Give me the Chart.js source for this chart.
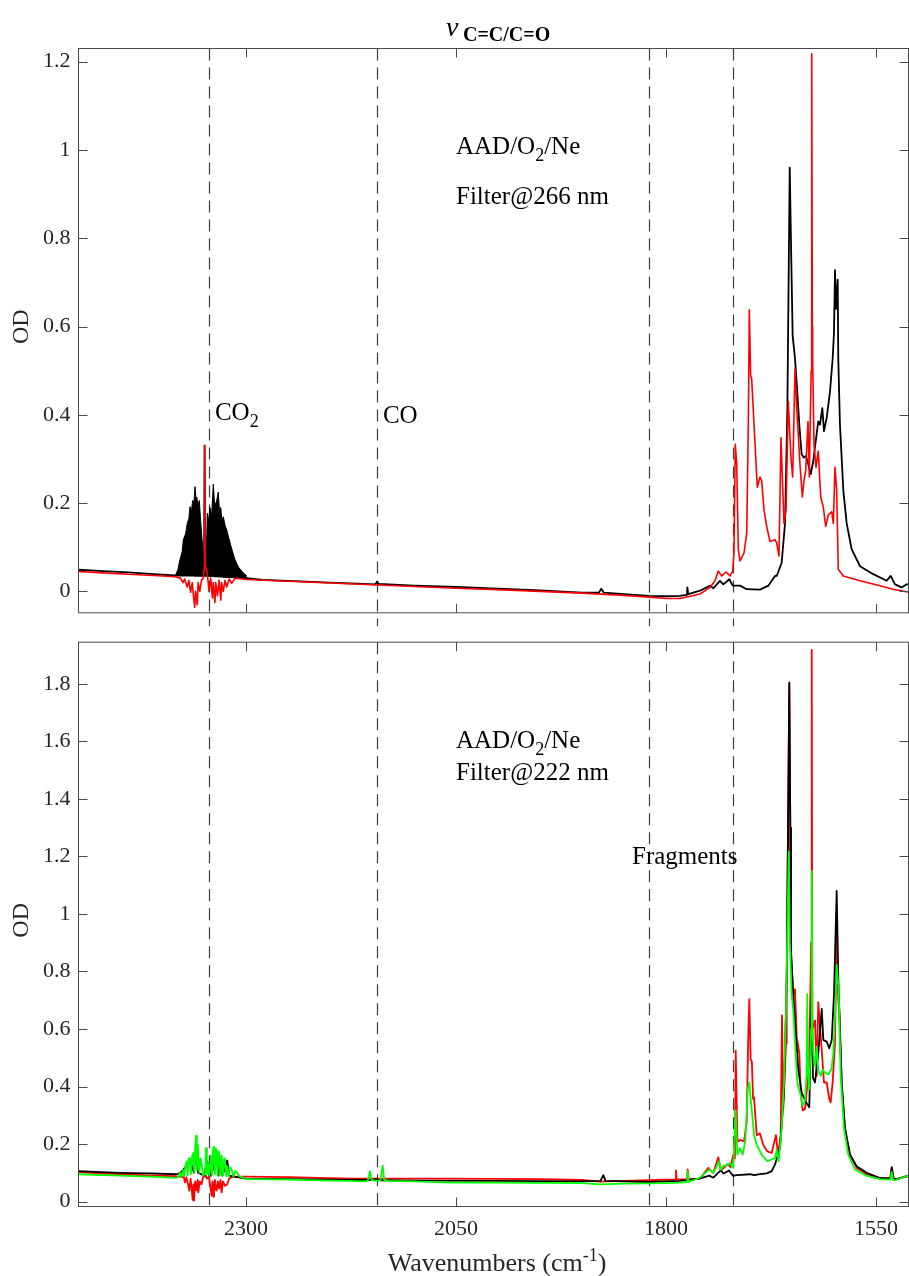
<!DOCTYPE html>
<html>
<head>
<meta charset="utf-8">
<script src="https://cdn.jsdelivr.net/npm/chart.js@4.4.0/dist/chart.umd.min.js"></script>
<style>
  html, body { margin: 0; padding: 0; background: #fff; }
  #wrap { position: relative; width: 909px; height: 1276px; overflow: hidden; }
  #top { position: absolute; left: 0; top: 0; }
  #bot { position: absolute; left: 0; top: 621px; }
</style>
</head>
<body>
<div id="wrap">
  <canvas id="top" width="909" height="634"></canvas>
  <canvas id="bot" width="909" height="655"></canvas>
</div>
<script>
// ---- data (wavenumber in cm-1, optical density) ----
const xTicks = [1550, 1800, 2050, 2300];
const yTicksTop = [0, 0.2, 0.4, 0.6, 0.8, 1, 1.2];
const yTicksBot = [0, 0.2, 0.4, 0.6, 0.8, 1, 1.2, 1.4, 1.6, 1.8];
const markerWn = [2344, 2144, 1820, 1720];

// top panel, Filter@266 nm
const topBlackWn = [2500, 2470, 2440, 2410, 2385, 2350, 2349.3, 2348.5, 2345, 2299, 2280, 2250, 2200, 2160, 2146, 2144, 2142, 2100, 2050, 2000,
  1950, 1900, 1880, 1877, 1874, 1850, 1820, 1800, 1783.3, 1775, 1774.6, 1773.5, 1759.5, 1747.6, 1743.7, 1735.7, 1731.8, 1724.6, 1720.6, 1711.9,
  1703.9, 1688, 1678.2, 1670.2, 1668.2, 1662.3, 1658.3, 1655.5, 1652.7, 1650.4, 1649.2, 1646.4, 1643.7, 1641.3, 1638.5, 1635.7, 1633.3, 1630.6, 1627.7, 1624.6,
  1621.8, 1618.7, 1616.7, 1613.9, 1611.9, 1608.7, 1604.8, 1601.6, 1600, 1598.8, 1597.5, 1595.6, 1594.9, 1592.9, 1588.9, 1584.9, 1578.9, 1569, 1553.2, 1537.3,
  1532.5, 1527.4, 1519.4, 1513.5, 1510.7];
const topBlackOD = [0.049, 0.046, 0.043, 0.039, 0.036, 0.036, 0.33, 0.05, 0.036, 0.03, 0.026, 0.024, 0.02, 0.017, 0.016, 0.022, 0.017, 0.013, 0.01, 0.006,
  0.002, -0.003, -0.003, 0.006, -0.003, -0.006, -0.01, -0.011, -0.01, -0.008, 0.009, -0.006, 0.0015, 0.013, 0.007, 0.024, 0.016, 0.0275, 0.013, 0.013,
  0.005, 0.004, 0.013, 0.035, 0.035, 0.065, 0.154, 0.415, 0.96, 0.705, 0.579, 0.527, 0.452, 0.378, 0.31, 0.303, 0.307, 0.288, 0.266, 0.296,
  0.34, 0.385, 0.378, 0.415, 0.363, 0.393, 0.452, 0.527, 0.586, 0.728, 0.64, 0.706, 0.527, 0.378, 0.229, 0.154, 0.095, 0.057, 0.039, 0.024,
  0.035, 0.016, 0.009, 0.016, 0.016];

// CO2 band of the black trace (dense rotational lines), upper envelope and lower edge
const co2BandWn = [2384, 2381, 2378.6, 2376, 2374.6, 2372, 2369.9, 2368, 2366.7, 2365,
  2363.5, 2362, 2360.7, 2359.5, 2358.7, 2357, 2355.6, 2354, 2352.9, 2351.5,
  2350.5, 2349.5, 2347.5, 2346.1, 2344.5, 2342.9, 2341, 2338.9, 2337.5, 2335.7,
  2334.5, 2333, 2331.5, 2330.1, 2328.5, 2327, 2325, 2323, 2321, 2319,
  2316, 2313.1, 2309, 2305.1, 2301, 2299];
const co2BandTop = [0.036, 0.05, 0.072, 0.09, 0.117, 0.13, 0.154, 0.165, 0.192, 0.18,
  0.206, 0.2, 0.2375, 0.21, 0.214, 0.195, 0.206, 0.16, 0.132, 0.1,
  0.072, 0.05, 0.06, 0.177, 0.16, 0.19, 0.17, 0.243, 0.2, 0.199,
  0.21, 0.225, 0.18, 0.19, 0.16, 0.169, 0.15, 0.139, 0.125, 0.11,
  0.09, 0.072, 0.055, 0.046, 0.038, 0.035];
const co2BandBase = [0.036, 0.036, 0.036, 0.036, 0.036, 0.036, 0.035, 0.035, 0.035, 0.035,
  0.035, 0.035, 0.034, 0.034, 0.034, 0.034, 0.034, 0.034, 0.034, 0.034,
  0.033, 0.033, 0.033, 0.033, 0.033, 0.033, 0.033, 0.033, 0.032, 0.032,
  0.032, 0.032, 0.032, 0.032, 0.032, 0.031, 0.031, 0.031, 0.031, 0.031,
  0.031, 0.031, 0.03, 0.03, 0.03, 0.03];

const topRedWn = [2500, 2470, 2440, 2410, 2385, 2378, 2375, 2373, 2370, 2368, 2366, 2364, 2362, 2361, 2360, 2358, 2357, 2355, 2353, 2351,
  2349.8, 2349.2, 2348.5, 2346, 2344, 2342, 2340, 2339, 2337, 2336, 2334, 2332, 2330, 2329, 2327, 2325, 2323, 2320, 2317, 2313,
  2300, 2250, 2200, 2150, 2100, 2050, 2000, 1950, 1900, 1850, 1820, 1800, 1783.3, 1759.5, 1747.6, 1741.7, 1737.7, 1733.7, 1728.6, 1723.8,
  1720.6, 1719.1, 1717.5, 1715.8, 1713.9, 1711.9, 1707.1, 1703.9, 1702, 1700.8, 1699.2, 1698, 1695.2, 1691.3, 1688.1, 1686.1, 1683.3, 1680.1, 1676.2, 1670.2,
  1668.2, 1665.5, 1663.1, 1661.5, 1659.5, 1657.1, 1654.4, 1651.2, 1649.2, 1646.4, 1644.4, 1642.5, 1640.5, 1637.7, 1635.7, 1633.7, 1630.9, 1629.4, 1627.2, 1626.5,
  1625.8, 1625.4, 1623.8, 1621.4, 1618.7, 1615.8, 1612.7, 1609.9, 1606.8, 1602.7, 1600.8, 1598.8, 1596.8, 1594.9, 1588.9, 1569, 1545.2, 1529.4, 1510.7];
const topRedOD = [0.045, 0.042, 0.039, 0.036, 0.033, 0.03, 0.02, 0.028, 0.01, 0.025, -0.002, 0.02, -0.02, -0.036, 0.0, -0.03, 0.02, 0.0, 0.025, 0.03,
  0.05, 0.331, 0.06, 0.04, 0.0, 0.03, -0.015, 0.02, -0.025, 0.02, -0.01, 0.025, -0.02, 0.02, 0.0, 0.025, 0.01, 0.028, 0.018, 0.03,
  0.027, 0.023, 0.019, 0.015, 0.011, 0.007, 0.004, 0.0, -0.004, -0.009, -0.013, -0.016, -0.016, -0.006, 0.009, 0.024, 0.046, 0.035, 0.044, 0.035,
  0.046, 0.087, 0.333, 0.288, 0.095, 0.069, 0.087, 0.132, 0.378, 0.638, 0.489, 0.482, 0.378, 0.236, 0.259, 0.251, 0.184, 0.147, 0.113, 0.117,
  0.11, 0.08, 0.348, 0.259, 0.154, 0.184, 0.43, 0.303, 0.259, 0.504, 0.415, 0.355, 0.288, 0.214, 0.251, 0.273, 0.385, 0.259, 0.5, 1.218,
  0.6, 0.527, 0.333, 0.281, 0.318, 0.214, 0.191, 0.147, 0.173, 0.18, 0.154, 0.281, 0.229, 0.05, 0.035, 0.024, 0.013, 0.005, -0.002];

// bottom panel, Filter@222 nm
const botBlackWn = [2500, 2450, 2414, 2383, 2378, 2372, 2366, 2362, 2360, 2357, 2350, 2346, 2344, 2342.9, 2341.5, 2334.9, 2333, 2330, 2328, 2323,
  2322.3, 2320, 2310, 2300, 2250, 2176, 2150, 2145, 2140, 2100, 2000, 1900, 1878, 1874.6, 1872, 1820, 1800, 1783.3, 1760, 1748.5,
  1743.7, 1735.7, 1734.9, 1731.8, 1729.8, 1725, 1720, 1716, 1710, 1700, 1695, 1688.1, 1680, 1674.2, 1670.2, 1664.3, 1659.5, 1656.3, 1653.2, 1652,
  1651.2, 1648.5, 1645.2, 1642.5, 1638.5, 1633.3, 1629.4, 1626.5, 1625, 1622.6, 1618.7, 1614.6, 1612.7, 1608.7, 1605.6, 1602.7, 1600, 1596.8, 1594.9, 1590.8,
  1586.9, 1581, 1573, 1561.1, 1545.2, 1533, 1531.3, 1529, 1525.4, 1510.7];
const botBlackOD = [0.106, 0.1, 0.098, 0.095, 0.1, 0.12, 0.14, 0.1, 0.17, 0.1, 0.09, 0.14, 0.09, 0.151, 0.09, 0.163, 0.09, 0.15, 0.09, 0.14,
  0.142, 0.09, 0.085, 0.08, 0.078, 0.075, 0.075, 0.078, 0.074, 0.073, 0.072, 0.07, 0.072, 0.092, 0.072, 0.068, 0.07, 0.072, 0.08, 0.09,
  0.083, 0.106, 0.112, 0.097, 0.1, 0.108, 0.089, 0.092, 0.093, 0.095, 0.092, 0.095, 0.098, 0.106, 0.129, 0.186, 0.379, 0.778, 1.804, 1.3,
  0.87, 0.721, 0.573, 0.459, 0.379, 0.345, 0.328, 0.72, 0.43, 0.414, 0.516, 0.67, 0.562, 0.556, 0.533, 0.562, 0.721, 1.08, 0.778, 0.414,
  0.254, 0.163, 0.123, 0.1, 0.082, 0.08, 0.12, 0.08, 0.078, 0.091];

const botRedWn = [2500, 2450, 2414, 2385, 2380, 2374, 2372.6, 2371, 2369, 2367.5, 2366, 2364.5, 2363.5, 2362.5, 2361.9, 2360.5, 2359, 2357.5, 2356.8, 2355,
  2353, 2351, 2348, 2346.5, 2344, 2342.5, 2340.8, 2340, 2338.9, 2338.1, 2337, 2335.8, 2334.9, 2333.5, 2332, 2330.5, 2329, 2327.5, 2325, 2322.3,
  2320, 2317, 2310, 2300, 2250, 2176, 2150, 2100, 2057, 2000, 1950, 1900, 1878.6, 1850, 1820, 1800, 1788.8, 1788.1, 1787.4, 1775,
  1774.2, 1773, 1759.5, 1749.6, 1743.7, 1737.7, 1735, 1731.8, 1726.6, 1723, 1720, 1718, 1717, 1715.1, 1713.9, 1711.9, 1707.1, 1703.9, 1702, 1700.8,
  1699.2, 1697.8, 1696.3, 1695.2, 1692, 1688.1, 1684.2, 1679.4, 1674.2, 1669.1, 1666.6, 1663.5, 1661.9, 1660.4, 1657.1, 1656.3, 1653.2, 1652, 1651.2, 1648.5,
  1646.4, 1644.4, 1641.3, 1639.6, 1637.3, 1634.5, 1631.8, 1629.4, 1627.2, 1626.5, 1625.8, 1622.6, 1620.6, 1618.7, 1616.7, 1614.6, 1611.9, 1608.7, 1605.6, 1604,
  1601.6, 1598.8, 1596.8, 1594.9, 1593.7, 1590.8, 1586.9, 1581, 1573, 1561.1, 1545.2, 1533, 1531, 1529, 1525.4, 1510.7];
const botRedOD = [0.102, 0.095, 0.091, 0.088, 0.087, 0.085, 0.066, 0.085, 0.06, 0.038, 0.08, 0.04, 0.006, 0.06, 0.003, 0.07, 0.04, 0.075, 0.032, 0.07,
  0.06, 0.085, 0.09, 0.08, 0.086, 0.05, 0.021, 0.07, 0.017, 0.049, 0.075, 0.04, 0.038, 0.07, 0.045, 0.075, 0.032, 0.07, 0.055, 0.06,
  0.08, 0.085, 0.087, 0.087, 0.085, 0.08, 0.08, 0.08, 0.08, 0.079, 0.078, 0.075, 0.069, 0.072, 0.074, 0.076, 0.076, 0.108, 0.077, 0.078,
  0.112, 0.078, 0.08, 0.117, 0.1, 0.154, 0.11, 0.115, 0.13, 0.12, 0.162, 0.15, 0.525, 0.22, 0.209, 0.214, 0.209, 0.277, 0.585, 0.704,
  0.493, 0.488, 0.357, 0.362, 0.231, 0.237, 0.197, 0.174, 0.169, 0.231, 0.163, 0.231, 0.647, 0.322, 0.55, 0.778, 1.804, 1.3, 0.87, 0.721,
  0.738, 0.573, 0.516, 0.379, 0.317, 0.322, 0.402, 0.5, 0.9, 1.918, 0.6, 0.63, 0.437, 0.693, 0.607, 0.528, 0.414, 0.414, 0.357, 0.345,
  0.414, 0.55, 0.95, 0.7, 0.664, 0.402, 0.254, 0.163, 0.117, 0.095, 0.081, 0.081, 0.117, 0.08, 0.078, 0.089];

const botGreenWn = [2500, 2450, 2414, 2384, 2380.6, 2378.6, 2377, 2375, 2373.5, 2372, 2370.6, 2369.5, 2368, 2366.7, 2365.5, 2364, 2362.7, 2361.5, 2360.5, 2359.5,
  2358.5, 2357.5, 2356.8, 2355.5, 2354, 2352.7, 2351, 2349.6, 2348.5, 2347.6, 2346.5, 2344.9, 2343.8, 2342, 2340.5, 2339, 2338.1, 2337, 2335.8, 2334.9,
  2333.8, 2332.6, 2331.8, 2330.5, 2329, 2327.5, 2326, 2325, 2323.5, 2322.3, 2320.5, 2319, 2317, 2315, 2313, 2310.4, 2308, 2305, 2303.2, 2300,
  2295, 2250, 2200, 2176, 2160, 2155, 2152.4, 2150.5, 2145, 2140, 2137.3, 2135.5, 2130, 2100, 2057, 2000, 1950, 1900, 1878.6, 1850,
  1820, 1800, 1788.1, 1783.3, 1775, 1774.2, 1773, 1759.5, 1748.5, 1743.7, 1736.5, 1734.9, 1731.8, 1726.6, 1723.8, 1719.9, 1717, 1715.1, 1711.9, 1708.7,
  1705.6, 1702.7, 1700.8, 1699.2, 1697.3, 1695.2, 1692, 1686.1, 1679.4, 1670.2, 1668.2, 1665.8, 1662.3, 1659.5, 1657.1, 1653.9, 1652.5, 1650.4, 1648.5, 1646.4,
  1643.7, 1640.5, 1637.3, 1634.5, 1632.5, 1631.8, 1630.8, 1629.4, 1627.3, 1626.5, 1625.6, 1624.6, 1622.6, 1620.6, 1618.7, 1615.8, 1613.5, 1610.7, 1606.8, 1603,
  1600.8, 1598.5, 1596.8, 1594.4, 1592, 1588.1, 1583, 1575, 1561.1, 1545.2, 1533, 1531.3, 1529.5, 1527.4, 1510.7];
const botGreenOD = [0.095, 0.09, 0.087, 0.082, 0.085, 0.1, 0.086, 0.11, 0.088, 0.125, 0.14, 0.092, 0.15, 0.151, 0.095, 0.16, 0.169, 0.1, 0.19, 0.228,
  0.11, 0.2, 0.174, 0.1, 0.15, 0.129, 0.09, 0.095, 0.1, 0.186, 0.095, 0.129, 0.09, 0.16, 0.092, 0.19, 0.18, 0.095, 0.185, 0.174,
  0.092, 0.175, 0.169, 0.09, 0.16, 0.09, 0.15, 0.14, 0.088, 0.123, 0.087, 0.12, 0.112, 0.086, 0.105, 0.1, 0.088, 0.085, 0.083, 0.078,
  0.078, 0.076, 0.073, 0.072, 0.07, 0.072, 0.106, 0.075, 0.072, 0.074, 0.125, 0.075, 0.072, 0.07, 0.066, 0.066, 0.065, 0.064, 0.06, 0.062,
  0.063, 0.064, 0.065, 0.066, 0.068, 0.106, 0.068, 0.083, 0.112, 0.1, 0.14, 0.11, 0.123, 0.127, 0.134, 0.117, 0.317, 0.163, 0.186, 0.163,
  0.209, 0.391, 0.414, 0.357, 0.3, 0.231, 0.197, 0.163, 0.14, 0.151, 0.18, 0.14, 0.254, 0.414, 0.664, 1.217, 0.9, 0.721, 0.664, 0.55,
  0.414, 0.379, 0.334, 0.351, 0.45, 0.721, 0.45, 0.391, 0.6, 1.149, 0.6, 0.516, 0.471, 0.539, 0.454, 0.437, 0.459, 0.448, 0.442, 0.46,
  0.516, 0.664, 0.824, 0.733, 0.437, 0.254, 0.163, 0.112, 0.089, 0.078, 0.076, 0.103, 0.075, 0.074, 0.091];

// text notes placed at (wavenumber, OD) of their baseline start
const topNotes = [
  { text: 'AAD/O_2/Ne', wn: 2050, od: 0.992 },
  { text: 'Filter@266 nm', wn: 2050, od: 0.878 },
  { text: 'CO_2', wn: 2337, od: 0.389 },
  { text: 'CO', wn: 2137, od: 0.382 }
];
const botNotes = [
  { text: 'AAD/O_2/Ne', wn: 2050, od: 1.578 },
  { text: 'Filter@222 nm', wn: 2050, od: 1.465 },
  { text: 'Fragments', wn: 1840.5, od: 1.173 }
];

// ---- drawing ----
const SERIF = "'Liberation Serif', 'DejaVu Serif', serif";
Chart.defaults.font.family = SERIF;
Chart.defaults.color = '#262626';

const pts = (wn, od) => wn.map((w, i) => ({ x: w, y: od[i] }));

function seg(ctx, x1, y1, x2, y2) {
  ctx.beginPath(); ctx.moveTo(x1, y1); ctx.lineTo(x2, y2); ctx.stroke();
}

// text with one-character subscripts written as _X
function drawRich(ctx, str, x, y, size) {
  const parts = str.split(/_(.)/);
  let cx = x;
  parts.forEach((p, i) => {
    const sub = i % 2 === 1;
    ctx.font = (sub ? Math.round(size * 0.7) : size) + 'px ' + SERIF;
    ctx.fillText(p, cx, sub ? y + size * 0.3 : y);
    cx += ctx.measureText(p).width;
  });
}

const deco = {
  id: 'deco',
  beforeDatasetsDraw(chart, args, o) {
    const { ctx, chartArea: a, scales: { x } } = chart;
    ctx.save();
    ctx.strokeStyle = '#3c3c3c';
    ctx.lineWidth = 1.2;
    ctx.setLineDash([12, 7]);
    markerWn.forEach(w => {
      const px = Math.round(x.getPixelForValue(w)) + 0.5;
      seg(ctx, px, a.top, px, a.bottom + o.dashExtra);
    });
    ctx.restore();
  },
  afterDatasetsDraw(chart, args, o) {
    const { ctx, chartArea: a, scales: { x, y } } = chart;
    ctx.save();
    ctx.strokeStyle = '#4a4a4a';
    ctx.lineWidth = 1;
    ctx.strokeRect(a.left, a.top, a.right - a.left, a.bottom - a.top);
    x.ticks.forEach(t => {
      const px = Math.round(x.getPixelForValue(t.value)) + 0.5;
      seg(ctx, px, a.bottom, px, a.bottom - 9);
      seg(ctx, px, a.top, px, a.top + 9);
    });
    y.ticks.forEach(t => {
      const py = Math.round(y.getPixelForValue(t.value)) + 0.5;
      seg(ctx, a.left, py, a.left + 9, py);
      seg(ctx, a.right, py, a.right - 9, py);
    });

    ctx.fillStyle = '#000';
    ctx.textBaseline = 'alphabetic';
    ctx.textAlign = 'left';
    o.notes.forEach(n => drawRich(ctx, n.text, x.getPixelForValue(n.wn), y.getPixelForValue(n.od), 25));

    // y axis title
    ctx.fillStyle = '#262626';
    ctx.save();
    ctx.translate(22, (a.top + a.bottom) / 2 - 4);
    ctx.rotate(-Math.PI / 2);
    ctx.textAlign = 'center';
    ctx.textBaseline = 'middle';
    ctx.font = '24px ' + SERIF;
    ctx.fillText('OD', 0, 0);
    ctx.restore();

    ctx.textAlign = 'left';
    ctx.textBaseline = 'alphabetic';
    if (o.title) {
      ctx.fillStyle = '#000';
      ctx.font = 'italic 28px ' + SERIF;
      ctx.fillText('\u03bd', 446, 36);
      ctx.font = 'bold 20px ' + SERIF;
      ctx.fillText('C=C/C=O', 463, 41);
    }
    if (o.xTitle) {
      const main = '26px ' + SERIF, sup = '18px ' + SERIF;
      ctx.font = main;
      const w1 = ctx.measureText('Wavenumbers (cm').width, w3 = ctx.measureText(')').width;
      ctx.font = sup;
      const w2 = ctx.measureText('-1').width;
      let cx = 497 - (w1 + w2 + w3) / 2;
      const by = o.xTitle;
      ctx.font = main; ctx.fillText('Wavenumbers (cm', cx, by); cx += w1;
      ctx.font = sup; ctx.fillText('-1', cx, by - 10); cx += w2;
      ctx.font = main; ctx.fillText(')', cx, by);
    }
    ctx.restore();
  }
};

function makeChart(id, datasets, yMin, yMax, yTicks, showX, pad, xHeight, decoOpts) {
  return new Chart(document.getElementById(id), {
    type: 'line',
    data: { datasets },
    options: {
      responsive: false,
      animation: false,
      events: [],
      layout: { padding: pad },
      elements: { point: { radius: 0 }, line: { tension: 0, borderJoinStyle: 'round' } },
      plugins: { legend: { display: false }, tooltip: { enabled: false }, deco: decoOpts },
      scales: {
        x: {
          type: 'linear', reverse: true, min: 1511.3, max: 2499.4,
          grid: { display: false, drawTicks: false }, border: { display: false },
          afterBuildTicks: s => { s.ticks = xTicks.map(v => ({ value: v })); },
          afterFit: s => { s.height = xHeight; },
          ticks: { display: showX, font: { size: 22 }, padding: 10, maxRotation: 0, callback: v => String(v) }
        },
        y: {
          min: yMin, max: yMax,
          grid: { display: false, drawTicks: false }, border: { display: false },
          afterBuildTicks: s => { s.ticks = yTicks.map(v => ({ value: v })); },
          afterFit: s => { s.width = 78.5; },
          ticks: { font: { size: 22 }, padding: 8, callback: v => String(v) }
        }
      }
    },
    plugins: [deco]
  });
}

makeChart('top', [
  { data: pts(topRedWn, topRedOD), borderColor: '#ff0000', borderWidth: 1.6, order: 0 },
  { data: pts(topBlackWn, topBlackOD), borderColor: '#000000', borderWidth: 1.8, order: 1 },
  { data: pts(co2BandWn, co2BandTop), borderColor: '#000000', borderWidth: 1, backgroundColor: '#000000', fill: '+1', order: 2 },
  { data: pts(co2BandWn, co2BandBase), borderColor: 'rgba(0,0,0,0)', borderWidth: 0, order: 3 }
], -0.0485, 1.2299, yTicksTop, false, { top: 48.5, right: 0.5, left: 0, bottom: 0 }, 13.5,
  { notes: topNotes, dashExtra: 13.5, title: true, xTitle: 0 });

makeChart('bot', [
  { data: pts(botGreenWn, botGreenOD), borderColor: '#00ff00', borderWidth: 1.8, order: 0 },
  { data: pts(botBlackWn, botBlackOD), borderColor: '#000000', borderWidth: 1.8, order: 1 },
  { data: pts(botRedWn, botRedOD), borderColor: '#ff0000', borderWidth: 1.8, order: 2 }
], -0.0172, 1.945, yTicksBot, true, { top: 13.5, right: 0.5, left: 0, bottom: 0 }, 69.5,
  { notes: botNotes, dashExtra: 0, title: false, xTitle: 1271 - 621 });
</script>
</body>
</html>
